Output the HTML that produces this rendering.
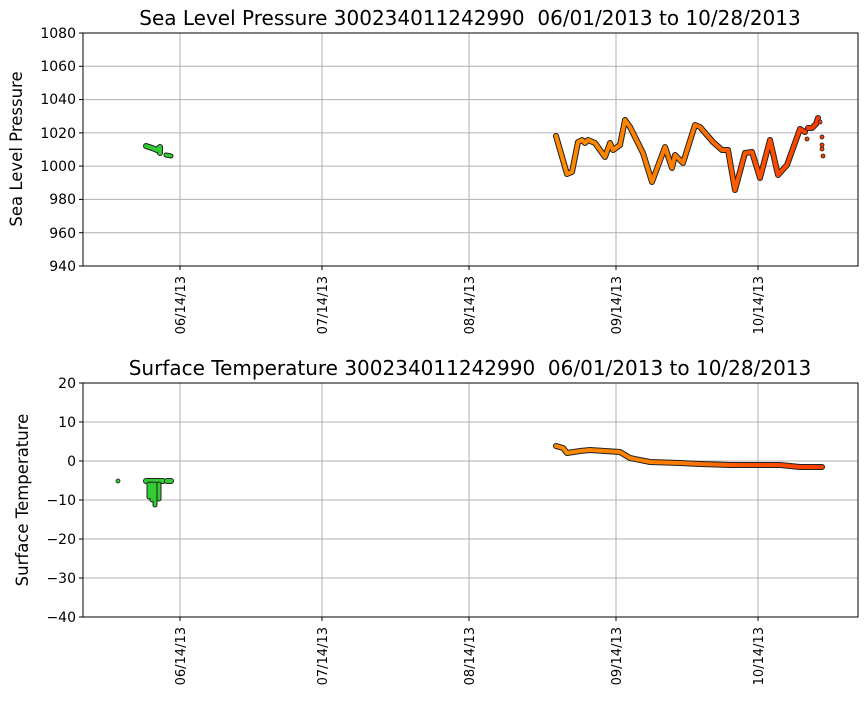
<!DOCTYPE html><html><head><style>body{margin:0;background:#fff}svg{font-family:"DejaVu Sans","Liberation Sans",sans-serif}</style></head><body>
<svg width="867" height="700" xmlns="http://www.w3.org/2000/svg">
<defs><linearGradient id="g" x1="556" x2="822" gradientUnits="userSpaceOnUse"><stop offset="0" stop-color="#ff8c00"/><stop offset="0.5" stop-color="#ff7a00"/><stop offset="0.7" stop-color="#ff5500"/><stop offset="1" stop-color="#ff3c00"/></linearGradient></defs>
<g stroke="#b0b0b0" stroke-width="1">
<line x1="180" y1="33" x2="180" y2="266"/><line x1="322" y1="33" x2="322" y2="266"/><line x1="469" y1="33" x2="469" y2="266"/><line x1="616" y1="33" x2="616" y2="266"/><line x1="758" y1="33" x2="758" y2="266"/>
<line x1="83" y1="66.3" x2="858" y2="66.3"/><line x1="83" y1="99.6" x2="858" y2="99.6"/><line x1="83" y1="132.9" x2="858" y2="132.9"/><line x1="83" y1="166.1" x2="858" y2="166.1"/><line x1="83" y1="199.4" x2="858" y2="199.4"/><line x1="83" y1="232.7" x2="858" y2="232.7"/>
<line x1="180" y1="383" x2="180" y2="617"/><line x1="322" y1="383" x2="322" y2="617"/><line x1="469" y1="383" x2="469" y2="617"/><line x1="616" y1="383" x2="616" y2="617"/><line x1="758" y1="383" x2="758" y2="617"/>
<line x1="83" y1="422" x2="858" y2="422"/><line x1="83" y1="461" x2="858" y2="461"/><line x1="83" y1="500" x2="858" y2="500"/><line x1="83" y1="539" x2="858" y2="539"/><line x1="83" y1="578" x2="858" y2="578"/>
</g>
<g fill="none" stroke-linejoin="round" stroke-linecap="round">
<polyline stroke="#222" stroke-width="6" points="556,136 567,174 572,172 578,142 582,140 585,143 588,140 595,143 605,157 610,143 613,150 620,145 625,120 630,127 643,153 652,182 665,147 672,168 675,155 683,163 695,125 700,127 713,142 722,150 728,150 735,190 745,153 752,152 760,178 770,140 778,175 787,165 800,129 805,132"/>
<polyline stroke="url(#g)" stroke-width="4" points="556,136 567,174 572,172 578,142 582,140 585,143 588,140 595,143 605,157 610,143 613,150 620,145 625,120 630,127 643,153 652,182 665,147 672,168 675,155 683,163 695,125 700,127 713,142 722,150 728,150 735,190 745,153 752,152 760,178 770,140 778,175 787,165 800,129 805,132"/>
<polyline stroke="#222" stroke-width="6" points="808,128 812,128 816,124 818,118"/>
<polyline stroke="#ff3c00" stroke-width="4" points="808,128 812,128 816,124 818,118"/>
<polyline stroke="#222" stroke-width="6" points="146,146 152,148 157,150 160,147 160,153"/>
<polyline stroke="#33cc33" stroke-width="4" points="146,146 152,148 157,150 160,147 160,153"/>
<polyline stroke="#222" stroke-width="5" points="166,155 171,156"/>
<polyline stroke="#33cc33" stroke-width="3" points="166,155 171,156"/>
</g>
<g fill="#ff3c00" stroke="#222" stroke-width="0.8"><circle cx="807" cy="139" r="2"/><circle cx="822" cy="137" r="2"/><circle cx="822" cy="145" r="2"/><circle cx="822" cy="149" r="2"/><circle cx="823" cy="156" r="2"/><circle cx="820" cy="122" r="2"/></g>
<g fill="none" stroke-linejoin="round" stroke-linecap="round">
<polyline stroke="#222" stroke-width="6" points="556,446 563,448 567,453 580,451 590,450 620,452 630,458 650,462 680,463 700,464 730,465 780,465 800,467 822,467"/>
<polyline stroke="url(#g)" stroke-width="4" points="556,446 563,448 567,453 580,451 590,450 620,452 630,458 650,462 680,463 700,464 730,465 780,465 800,467 822,467"/>
<line stroke="#222" stroke-width="6" x1="146" y1="481" x2="163" y2="481"/><line stroke="#33cc33" stroke-width="4" x1="146" y1="481" x2="163" y2="481"/>
<line stroke="#222" stroke-width="6" x1="167" y1="481" x2="171" y2="481"/><line stroke="#33cc33" stroke-width="4" x1="167" y1="481" x2="171" y2="481"/>
<g stroke="#222" stroke-width="5"><line x1="149" y1="484" x2="149" y2="497"/><line x1="152" y1="484" x2="152" y2="500"/><line x1="155" y1="484" x2="155" y2="505"/><line x1="159" y1="484" x2="159" y2="499"/></g>
<g stroke="#33cc33" stroke-width="3"><line x1="149" y1="484" x2="149" y2="497"/><line x1="152" y1="484" x2="152" y2="500"/><line x1="155" y1="484" x2="155" y2="505"/><line x1="159" y1="484" x2="159" y2="499"/></g>
</g>
<circle cx="118" cy="481" r="2" fill="#33cc33" stroke="#222" stroke-width="0.8"/>
<rect x="83" y="33" width="775" height="233" fill="none" stroke="#000" stroke-width="1"/>
<rect x="83" y="383" width="775" height="234" fill="none" stroke="#000" stroke-width="1"/>
<g stroke="#000"><line x1="79" y1="33" x2="83" y2="33"/><line x1="79" y1="66.3" x2="83" y2="66.3"/><line x1="79" y1="99.6" x2="83" y2="99.6"/><line x1="79" y1="132.9" x2="83" y2="132.9"/><line x1="79" y1="166.1" x2="83" y2="166.1"/><line x1="79" y1="199.4" x2="83" y2="199.4"/><line x1="79" y1="232.7" x2="83" y2="232.7"/><line x1="79" y1="266" x2="83" y2="266"/>
<line x1="79" y1="383" x2="83" y2="383"/><line x1="79" y1="422" x2="83" y2="422"/><line x1="79" y1="461" x2="83" y2="461"/><line x1="79" y1="500" x2="83" y2="500"/><line x1="79" y1="539" x2="83" y2="539"/><line x1="79" y1="578" x2="83" y2="578"/><line x1="79" y1="617" x2="83" y2="617"/>
<line x1="180" y1="266" x2="180" y2="270"/><line x1="322" y1="266" x2="322" y2="270"/><line x1="469" y1="266" x2="469" y2="270"/><line x1="616" y1="266" x2="616" y2="270"/><line x1="758" y1="266" x2="758" y2="270"/>
<line x1="180" y1="617" x2="180" y2="621"/><line x1="322" y1="617" x2="322" y2="621"/><line x1="469" y1="617" x2="469" y2="621"/><line x1="616" y1="617" x2="616" y2="621"/><line x1="758" y1="617" x2="758" y2="621"/></g>
<g font-size="14" text-anchor="end" fill="#000">
<text x="76" y="38">1080</text><text x="76" y="71">1060</text><text x="76" y="104">1040</text><text x="76" y="138">1020</text><text x="76" y="171">1000</text><text x="76" y="204">980</text><text x="76" y="238">960</text><text x="76" y="271">940</text>
<text x="76" y="388">20</text><text x="76" y="427">10</text><text x="76" y="466">0</text><text x="76" y="505">−10</text><text x="76" y="544">−20</text><text x="76" y="583">−30</text><text x="76" y="622">−40</text>
</g>
<g font-size="13" text-anchor="end" fill="#000">
<text transform="translate(185,276) rotate(-90)">06/14/13</text><text transform="translate(327,276) rotate(-90)">07/14/13</text><text transform="translate(474,276) rotate(-90)">08/14/13</text><text transform="translate(621,276) rotate(-90)">09/14/13</text><text transform="translate(763,276) rotate(-90)">10/14/13</text>
<text transform="translate(185,627) rotate(-90)">06/14/13</text><text transform="translate(327,627) rotate(-90)">07/14/13</text><text transform="translate(474,627) rotate(-90)">08/14/13</text><text transform="translate(621,627) rotate(-90)">09/14/13</text><text transform="translate(763,627) rotate(-90)">10/14/13</text>
</g>
<g font-size="16.5" text-anchor="middle" fill="#000">
<text transform="translate(22,149) rotate(-90)">Sea Level Pressure</text>
<text transform="translate(28,500) rotate(-90)">Surface Temperature</text>
</g>
<g font-size="20" text-anchor="middle" fill="#000">
<text x="470" y="25">Sea Level Pressure 300234011242990&#160; 06/01/2013 to 10/28/2013</text>
<text x="470" y="375">Surface Temperature 300234011242990&#160; 06/01/2013 to 10/28/2013</text>
</g>
</svg></body></html>
